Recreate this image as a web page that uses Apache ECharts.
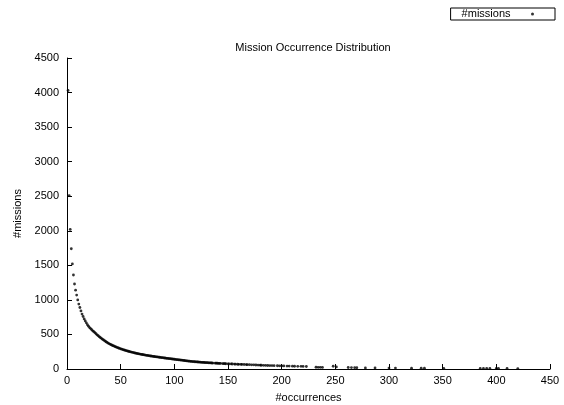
<!DOCTYPE html>
<html>
<head>
<meta charset="utf-8">
<script src="https://cdn.jsdelivr.net/npm/echarts@6/dist/echarts.min.js"></script>
<style>html,body{margin:0;padding:0;background:#fff}#c{width:564px;height:405px}</style>
</head>
<body>
<div id="c"></div>
<script>
const titleText = 'Mission Occurrence Distribution';
const xAxisName = '#occurrences';
const yAxisName = '#missions';
const seriesName = '#missions';
const xTicks = [0, 50, 100, 150, 200, 250, 300, 350, 400, 450];
const yTicks = [0, 500, 1000, 1500, 2000, 2500, 3000, 3500, 4000, 4500];

const occurrences = [
  1,2,3,4,5,6,7,8,9,10,11,12,13,14,15,16,17,18,19,20,
  21,22,23,24,25,26,27,28,29,30,31,32,33,34,35,36,37,38,39,40,
  41,42,43,44,45,46,47,48,49,50,51,52,53,54,55,56,57,58,59,60,
  61,62,63,64,65,66,67,68,69,70,71,72,73,74,75,76,77,78,79,80,
  81,82,83,84,85,86,87,88,89,90,91,92,93,94,95,96,97,98,99,100,
  101,102,103,104,105,106,107,108,109,110,111,112,113,114,115,116,117,118,119,120,
  121,122,123,124,125,126,127,128,129,130,131,132,133,134,135,136,138,139,140,141,
  142,143,145,146,147,148,150,151,153,154,156,157,159,160,162,163,165,167,168,170,
  172,174,176,178,180,181,183,185,187,189,191,193,196,198,200,202,205,207,210,212,
  215,218,220,223,232,234,236,238,248,251,262,265,268,270,278,287,300,306,321,330,
  333,351,385,388,391,394,400,402,410,420
];
const missions = [
  4030,2510,2020,1740,1520,1360,1230,1140,1070,1000,940,890,840,795,760,725,695,668,642,620,
  600,585,568,553,540,525,510,495,482,468,456,444,432,420,410,398,388,378,368,360,
  352,344,337,330,323,316,310,304,298,292,287,281,276,271,266,262,257,253,249,245,
  241,237,233,229,226,222,219,216,213,210,207,204,201,198,196,193,190,188,186,183,
  181,179,176,174,172,170,168,166,164,162,159,157,155,153,151,149,147,145,143,141,
  139,137,135,133,131,129,127,125,123,121,119,117,115,113,111,110,108,107,105,104,
  103,101,100,99,97,96,95,94,93,92,91,90,89,88,87,86,85,84,83,82,
  81,80,79,78,77,76,75,74,73,72,71,70,69,68,67,66,65,64,63,62,
  61,60,58,57,55,54,53,52,51,50,49,48,47,46,45,44,43,42,41,40,
  39,38,37,36,25,24,24,23,40,30,22,20,19,18,16,15,14,13,12,12,
  11,10,9,9,8,8,8,7,7,6
];

const points = occurrences.map((x, i) => [x, missions[i]]);
const font = '"Liberation Sans", Arial, sans-serif';

const chart = echarts.init(document.getElementById('c'), null, {renderer: 'canvas'});
chart.setOption({
  animation: false,
  backgroundColor: '#fff',
  textStyle: {fontFamily: font},
  title: {
    text: titleText,
    left: 308, top: 37, textAlign: 'center',
    textStyle: {fontSize: 11, fontWeight: 'normal', color: '#000', fontFamily: font}
  },
  legend: {
    data: [seriesName],
    right: 9, top: 8,
    align: 'right',
    icon: 'circle',
    itemWidth: 34, itemHeight: 3,
    padding: [0, 21, 0, 11],
    borderColor: '#000', borderWidth: 1, borderRadius: 0,
    textStyle: {fontSize: 11, color: '#000', fontFamily: font, lineHeight: 12}
  },
  grid: {left: 67, right: 14, top: 58, bottom: 36, containLabel: false, outerBoundsMode: 'none'},
  xAxis: {
    type: 'value', min: xTicks[0], max: xTicks[xTicks.length - 1], interval: 50,
    name: xAxisName, nameLocation: 'middle', nameGap: 23,
    nameTextStyle: {fontSize: 11, color: '#000', fontFamily: font},
    axisLine: {lineStyle: {color: '#000', width: 1}},
    axisTick: {inside: true, length: 5, lineStyle: {color: '#000'}},
    axisLabel: {fontSize: 11, color: '#000', margin: 6, fontFamily: font, formatter: v => String(v)},
    splitLine: {show: false}
  },
  yAxis: {
    type: 'value', min: yTicks[0], max: yTicks[yTicks.length - 1], interval: 500,
    name: yAxisName, nameLocation: 'middle', nameGap: 43, nameRotate: 90,
    nameTextStyle: {fontSize: 11, color: '#000', fontFamily: font},
    axisLine: {show: true, lineStyle: {color: '#000', width: 1}},
    axisTick: {show: true, inside: true, length: 5, lineStyle: {color: '#000'}},
    axisLabel: {fontSize: 11, color: '#000', margin: 8, fontFamily: font, formatter: v => String(v)},
    splitLine: {show: false}
  },
  series: [{
    name: seriesName,
    type: 'scatter',
    data: points,
    symbol: 'circle',
    symbolSize: 2.8,
    itemStyle: {color: '#000'}
  }]
});
</script>
</body>
</html>
